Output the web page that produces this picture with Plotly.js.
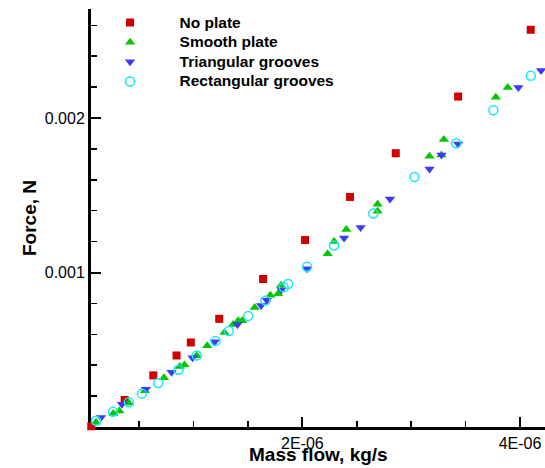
<!DOCTYPE html>
<html>
<head>
<meta charset="utf-8">
<script src="https://cdn.plot.ly/plotly-3.0.1.min.js"></script>
<style>html,body{margin:0;padding:0;background:#fff;}#chart{width:545px;height:468px;}</style>
</head>
<body>
<div id="chart"></div>
<script>
// Mass flow in units of 1E-06 kg/s, force in units of 1E-03 N
var seriesNames = ["No plate", "Smooth plate", "Triangular grooves", "Rectangular grooves"];

var noPlateFlow  = [0.06, 0.367, 0.630, 0.844, 0.975, 1.236, 1.639, 2.025, 2.438, 2.858, 3.431, 4.098];
var noPlateForce = [0.005, 0.175, 0.334, 0.463, 0.547, 0.700, 0.958, 1.210, 1.489, 1.772, 2.139, 2.571];

var smoothFlow  = [0.104, 0.263, 0.318, 0.406, 0.553, 0.728, 0.874, 0.917, 1.028, 1.126, 1.284, 1.364, 1.410, 1.447, 1.562, 1.706, 1.777, 1.805, 2.232, 2.291, 2.404, 2.691, 2.691, 3.168, 3.278, 3.300, 3.777, 3.887];
var smoothForce = [0.031, 0.087, 0.104, 0.156, 0.235, 0.319, 0.392, 0.401, 0.461, 0.526, 0.612, 0.663, 0.687, 0.687, 0.773, 0.853, 0.863, 0.917, 1.121, 1.201, 1.279, 1.397, 1.442, 1.753, 1.760, 1.861, 2.134, 2.197];

var triFlow  = [0.150, 0.342, 0.562, 0.798, 0.991, 1.195, 1.404, 1.621, 1.673, 1.807, 2.043, 2.383, 2.535, 2.805, 3.168, 3.278, 3.431, 3.984, 4.193];
var triForce = [0.061, 0.147, 0.244, 0.354, 0.448, 0.552, 0.663, 0.786, 0.821, 0.889, 1.025, 1.223, 1.292, 1.476, 1.670, 1.760, 1.831, 2.197, 2.307];

var rectFlow  = [0.104, 0.260, 0.406, 0.526, 0.676, 0.862, 1.030, 1.202, 1.324, 1.502, 1.661, 1.828, 1.869, 2.043, 2.291, 2.651, 3.030, 3.413, 3.755, 4.098];
var rectForce = [0.040, 0.098, 0.160, 0.216, 0.285, 0.371, 0.463, 0.556, 0.621, 0.719, 0.818, 0.905, 0.926, 1.037, 1.175, 1.382, 1.618, 1.837, 2.050, 2.274];

var xTickVals = [2e-6, 4e-6];
var xTickText = ["2E-06", "4E-06"];
var yTickVals = [0.001, 0.002];
var yTickText = ["0.001", "0.002"];
var xTitle = "Mass flow, kg/s";
var yTitle = "Force, N";

function toKg(a){ return a.map(function(v){ return v * 1e-6; }); }
function toN(a){ return a.map(function(v){ return v * 1e-3; }); }

var FONT = "'Liberation Sans', Arial, Helvetica, sans-serif";

function tr(name, fx, fy, symbol, color, size, lw){
  return {
    type: "scatter", mode: "markers",
    name: '<span style="font-size:15.5px">' + name + '</span>',
    x: toKg(fx), y: toN(fy), cliponaxis: false,
    marker: {symbol: symbol, size: size, color: color, line: {width: lw || 0, color: color}}
  };
}

var data = [
  tr(seriesNames[0], noPlateFlow, noPlateForce, "square", "#d10000", 8),
  tr(seriesNames[1], smoothFlow, smoothForce, "triangle-up", "#00c800", 9),
  tr(seriesNames[2], triFlow, triForce, "triangle-down", "#3b3bff", 9),
  tr(seriesNames[3], rectFlow, rectForce, "circle-open", "#19e6f5", 9, 1.5)
];

var layout = {
  width: 545, height: 468,
  margin: {l: 91, r: 0, t: 9, b: 41, pad: 0},
  paper_bgcolor: "#ffffff", plot_bgcolor: "#ffffff",
  font: {family: FONT, size: 16, color: "#000"},
  showlegend: true,
  legend: {
    x: -0.023, y: 1.003, xanchor: "left", yanchor: "top",
    bgcolor: "rgba(0,0,0,0)", borderwidth: 0,
    itemwidth: 89,
    font: {family: FONT, size: 12.8, weight: "bold", color: "#000"},
    traceorder: "normal"
  },
  xaxis: {
    range: [0.058e-6, 4.229e-6],
    layer: "below traces",
    showgrid: false, zeroline: false,
    showline: true, linecolor: "#000", linewidth: 3,
    ticks: "inside", ticklen: 10, tickwidth: 2, tickcolor: "#000",
    tickmode: "array", tickvals: xTickVals, ticktext: xTickText,
    tickfont: {family: FONT, size: 16, color: "#000"},
    minor: {ticks: "inside", tickmode: "linear", tick0: 0, dtick: 0.5e-6, ticklen: 6, tickwidth: 1.5, tickcolor: "#000", showgrid: false}
  },
  yaxis: {
    range: [0, 0.0027055],
    layer: "below traces",
    showgrid: false, zeroline: false,
    showline: true, linecolor: "#000", linewidth: 3,
    ticks: "inside", ticklen: 10, tickwidth: 2, tickcolor: "#000",
    tickmode: "array", tickvals: yTickVals, ticktext: yTickText,
    tickfont: {family: FONT, size: 16, color: "#000"},
    minor: {ticks: "inside", tickmode: "linear", tick0: 0, dtick: 0.0002, ticklen: 6, tickwidth: 1.5, tickcolor: "#000", showgrid: false},
    title: {text: yTitle, font: {family: FONT, size: 19, weight: "bold", color: "#000"}, standoff: 4}
  },
  annotations: [{
    text: xTitle, xref: "paper", yref: "paper",
    x: 0.501, y: -0.066, xanchor: "center", yanchor: "middle",
    showarrow: false,
    font: {family: FONT, size: 19, weight: "bold", color: "#000"}
  }]
};

Plotly.newPlot("chart", data, layout, {displayModeBar: false, staticPlot: true});
</script>
</body>
</html>
